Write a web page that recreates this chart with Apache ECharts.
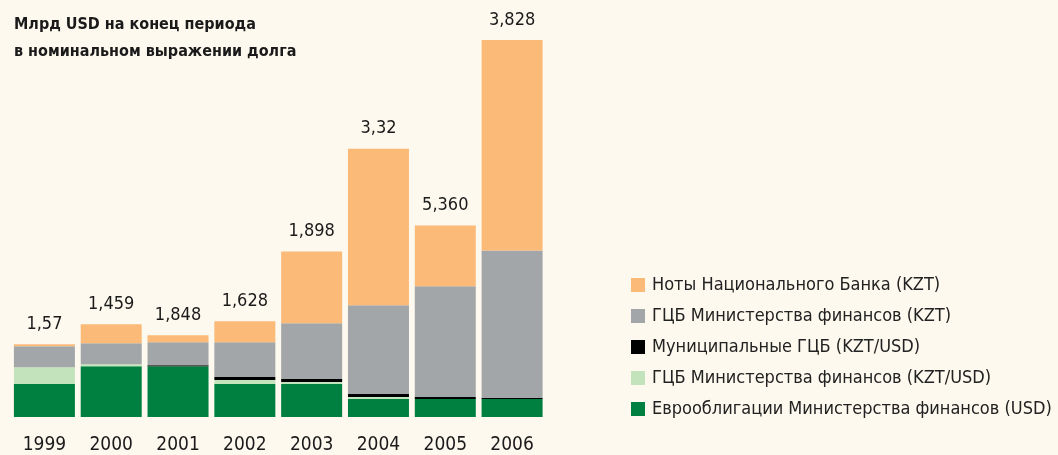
<!DOCTYPE html>
<html>
<head>
<meta charset="utf-8">
<script src="https://cdn.jsdelivr.net/npm/echarts@6/dist/echarts.min.js"></script>
<style>
  html, body { margin: 0; padding: 0; background: #fdf9ee; }
  #chart { width: 1058px; height: 455px; }
</style>
</head>
<body>
<div id="chart"></div>
<script>
// годы и подписи итогов (как в оригинале)
const years = ['1999', '2000', '2001', '2002', '2003', '2004', '2005', '2006']
const totalLabels = ['1,57', '1,459', '1,848', '1,628', '1,898', '3,32', '5,360', '3,828']

// млрд USD, оценка по высоте столбцов
const eurobonds = [0.33, 0.51, 0.51, 0.33, 0.33, 0.18, 0.18, 0.18]
const gcbMinfinMixed = [0.17, 0.02, 0, 0.04, 0.02, 0.02, 0, 0]
const municipal = [0, 0, 0.01, 0.03, 0.03, 0.03, 0.02, 0.01]
const gcbMinfinKzt = [0.21, 0.21, 0.23, 0.35, 0.56, 0.89, 1.11, 1.48]
const nbNotes = [0.02, 0.19, 0.07, 0.21, 0.72, 1.57, 0.61, 2.11]

const names = [
  'Ноты Национального Банка (KZT)',
  'ГЦБ Министерства финансов (KZT)',
  'Муниципальные ГЦБ (KZT/USD)',
  'ГЦБ Министерства финансов (KZT/USD)',
  'Еврооблигации Министерства финансов (USD)'
]

const font = '"DejaVu Sans Condensed", "Liberation Sans Narrow", sans-serif'

const chart = echarts.init(document.getElementById('chart'))

const bar = (name, data, color) => ({
  name,
  type: 'bar',
  stack: 'debt',
  data,
  barWidth: 61,
  itemStyle: { color },
  emphasis: { disabled: true }
})

const notesSeries = bar(names[0], nbNotes, '#fbba78')
notesSeries.label = {
  show: true,
  position: 'top',
  distance: 11,
  fontFamily: font,
  fontSize: 18,
  color: '#1a1a1a',
  formatter: p => totalLabels[p.dataIndex]
}

chart.setOption({
  backgroundColor: '#fdf9ee',
  animation: false,
  title: {
    text: 'Млрд USD на конец периода\nв номинальном выражении долга',
    left: 9,
    top: 6,
    textStyle: {
      fontFamily: font,
      fontSize: 16,
      fontWeight: 'bold',
      color: '#1a1a1a',
      lineHeight: 27
    }
  },
  legend: {
    orient: 'vertical',
    left: 626,
    top: 270,
    itemWidth: 14,
    itemHeight: 14,
    itemGap: 11,
    icon: 'rect',
    data: names,
    selectedMode: false,
    textStyle: {
      fontFamily: font,
      fontSize: 18,
      lineHeight: 20,
      color: '#222',
      padding: [0, 0, 0, 2]
    }
  },
  grid: { left: 11, right: 512.5, top: 18, bottom: 37 },
  xAxis: {
    type: 'category',
    data: years,
    axisLine: { show: false },
    axisTick: { show: false },
    axisLabel: {
      margin: 19,
      fontFamily: font,
      fontSize: 19,
      color: '#1a1a1a'
    }
  },
  yAxis: {
    type: 'value',
    min: 0,
    max: 4,
    show: false
  },
  series: [
    bar(names[4], eurobonds, '#008040'),
    bar(names[3], gcbMinfinMixed, '#c3e3bc'),
    bar(names[2], municipal, '#000000'),
    bar(names[1], gcbMinfinKzt, '#a3a6a9'),
    notesSeries
  ]
})
</script>
</body>
</html>
